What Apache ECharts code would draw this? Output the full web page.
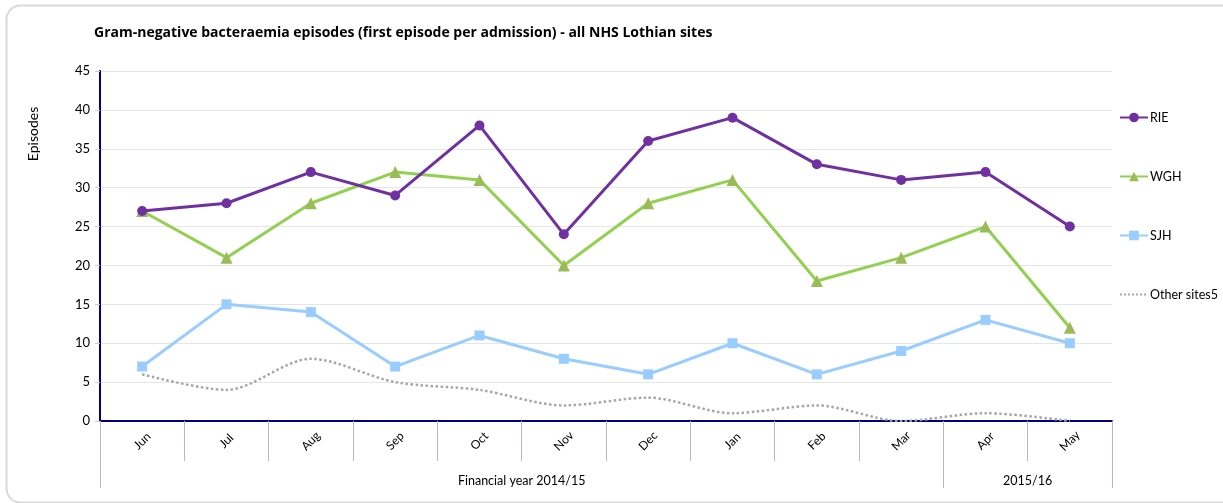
<!DOCTYPE html>
<html>
<head>
<meta charset="utf-8">
<script src="https://cdn.jsdelivr.net/npm/echarts@6/dist/echarts.min.js"></script>
<style>
html,body{margin:0;padding:0;background:#fff;}
#chart{width:1223px;height:503px;}
</style>
</head>
<body>
<div id="chart"></div>
<script>
const months = ['Jun','Jul','Aug','Sep','Oct','Nov','Dec','Jan','Feb','Mar','Apr','May'];
const rie = [27,28,32,29,38,24,36,39,33,31,32,25];
const wgh = [27,21,28,32,31,20,28,31,18,21,25,12];
const sjh = [7,15,14,7,11,8,6,10,6,9,13,10];
const other = [6,4,8,5,4,2,3,1,2,0,1,0];
const yTicks = [0,5,10,15,20,25,30,35,40,45];
const groupLabels = ['Financial year 2014/15','2015/16'];
const groupBounds = [0,10,12];
const groupCenters = [5,11];

const FONT = 'Lato, "Open Sans", sans-serif';
const TFONT = '"Open Sans", Lato, sans-serif';
const chart = echarts.init(document.getElementById('chart'));
chart.setOption({
  animation:false,
  backgroundColor:'#fff',
  title:{
    text:'Gram-negative bacteraemia episodes (first episode per admission) - all NHS Lothian sites',
    left:89, top:21,
    textStyle:{fontFamily:TFONT,fontSize:14,fontWeight:'bold',color:'#000'}
  },
  graphic:[
    {type:'rect',shape:{x:6.5,y:5.5,width:1400,height:497,r:14},style:{fill:'none',stroke:'#d9d9d9',lineWidth:2},z:-1},
    {type:'text',x:33,y:134,rotation:Math.PI/2,style:{text:'Episodes',font:'14px '+FONT,fill:'#000',align:'center',verticalAlign:'middle'}}
  ],
  legend:{
    orient:'vertical',left:1114,top:106,itemWidth:28,itemHeight:12,itemGap:46,
    textStyle:{fontFamily:FONT,fontSize:12.5,color:'#000',padding:[0,0,0,-3]},
    data:['RIE','WGH','SJH',{name:'Other sites5',itemStyle:{opacity:0}}]
  },
  grid:{left:100,right:111,top:71,bottom:82,containLabel:false},
  xAxis:[{
    type:'category',data:months,boundaryGap:true,position:'bottom',
    axisLine:{lineStyle:{color:'#000080',width:2}},
    axisTick:{show:true,interval:0,length:40,lineStyle:{color:'#b4b4dc',width:1}},
    axisLabel:{interval:0,rotate:45,margin:20,align:'center',verticalAlign:'middle',fontFamily:FONT,fontSize:12,color:'#000'},
    splitLine:{show:false}
  },{
    type:'value',min:0,max:12,position:'bottom',offset:40,
    axisLine:{show:false},
    axisTick:{show:true,customValues:groupBounds,length:27,lineStyle:{color:'#b4b4dc',width:1}},
    axisLabel:{customValues:groupCenters,margin:13,fontFamily:FONT,fontSize:12.5,color:'#000',
      formatter:function(v){return groupLabels[groupCenters.indexOf(v)];}},
    splitLine:{show:false}
  }],
  yAxis:{
    type:'value',min:0,max:45,interval:5,
    axisLine:{show:true,lineStyle:{color:'#000080',width:2}},
    axisTick:{show:true,length:5,lineStyle:{color:'#c8c8e0'}},
    axisLabel:{margin:10,fontFamily:FONT,fontSize:13,color:'#000',
      formatter:function(v){return yTicks.indexOf(v)>=0?String(v):'';}},
    splitLine:{lineStyle:{color:'#e6e6e6',width:1}}
  },
  series:[
    {name:'RIE',type:'line',data:rie,symbol:'circle',symbolSize:10,
      lineStyle:{color:'#7030A0',width:3},itemStyle:{color:'#7030A0'},z:5},
    {name:'WGH',type:'line',data:wgh,symbol:'triangle',symbolSize:12,
      lineStyle:{color:'#92D050',width:3},itemStyle:{color:'#9BBB59'},z:4},
    {name:'SJH',type:'line',data:sjh,symbol:'rect',symbolSize:10,
      lineStyle:{color:'#99CCFF',width:3},itemStyle:{color:'#99CCFF'},z:3},
    {name:'Other sites5',type:'line',data:other,symbol:'none',smooth:0.3,
      lineStyle:{color:'#a6a6a6',width:2.5,type:'dotted'},itemStyle:{color:'#a6a6a6'},z:2}
  ]
});
</script>
</body>
</html>
